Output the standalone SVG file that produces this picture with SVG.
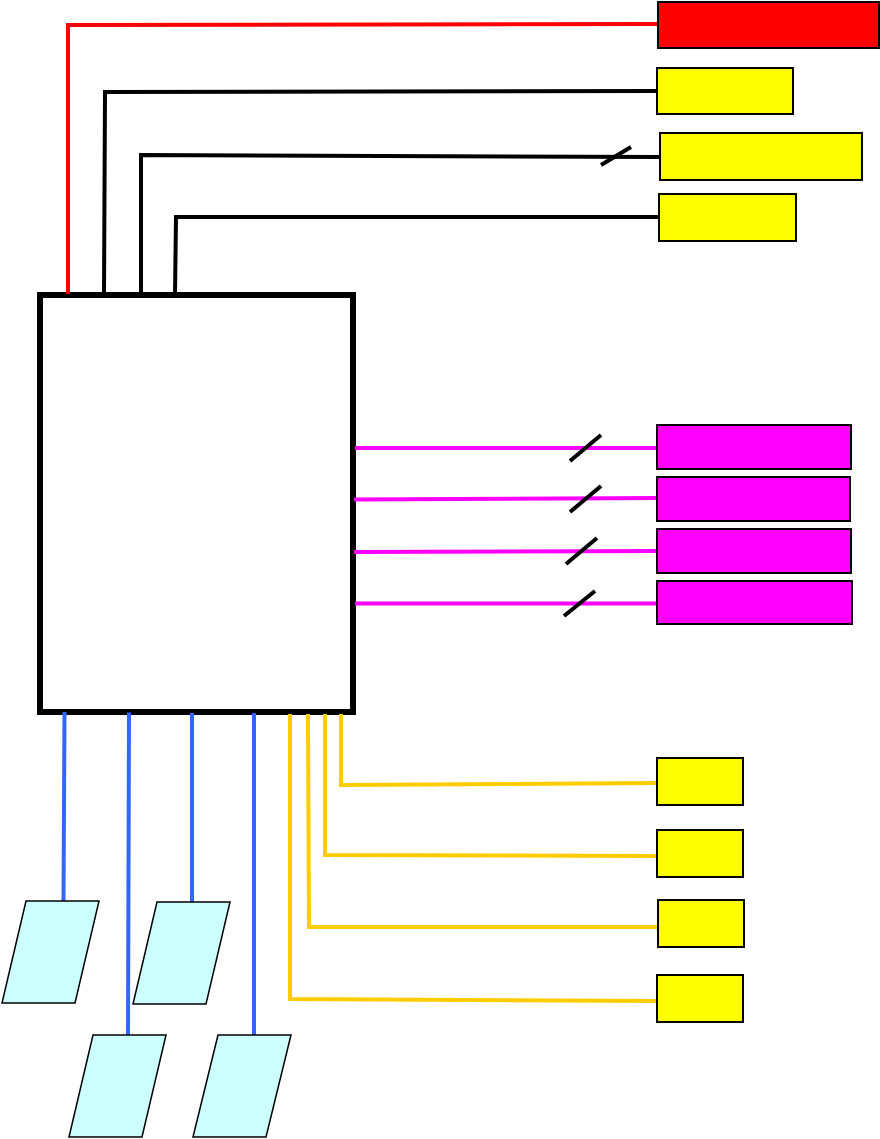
<svg xmlns="http://www.w3.org/2000/svg" width="880" height="1139" viewBox="0 0 880 1139">
<style>
.c{fill:none;stroke-width:4}
.r{stroke:#ff0000}.k{stroke:#000}.m{stroke:#ff00ff}.b{stroke:#3366ff}.o{stroke:#ffcc00}
.s{fill:none;stroke:#000;stroke-width:4}
.n{stroke:#000;stroke-width:2}
.y{fill:#ffff00}.f{fill:#ff00ff}.p{fill:#ccffff;stroke:#000;stroke-width:1.5}
</style>
<rect width="880" height="1139" fill="#fff"/>
<g id="main"><rect x="40" y="295" width="313" height="417" fill="#fff" stroke="#000" stroke-width="6"/></g>
<g id="connectors">
<path class="c r" d="M68 294V25L658 24"/>
<path class="c k" d="M104 294L105 92L657 91"/>
<path class="c k" d="M141 294V155L660 157"/>
<path class="c k" d="M175 294L176 217H659"/>
<path class="c m" d="M355 448H657"/><path class="c m" d="M354 499.500L657 498"/><path class="c m" d="M354 552L657 551"/><path class="c m" d="M355 603.500H657"/>
<path class="s" d="M601 165L631 147"/>
<path class="s" d="M570 461L601 435"/><path class="s" d="M570 512L601 486"/><path class="s" d="M566 564L597 538"/><path class="s" d="M564 616L595 591"/>
<path class="c b" d="M64.500 712L63.500 901"/><path class="c b" d="M129 712.500L128 1035"/><path class="c b" d="M192 713V902"/><path class="c b" d="M254 713V1035"/>
<path class="c o" d="M341 714V785L657 783"/>
<path class="c o" d="M325 714V855L657 856"/>
<path class="c o" d="M308 714L309 927H658"/>
<path class="c o" d="M290 714V999L657 1001"/>
</g>
<g id="red-box"><rect class="n" x="658" y="2" width="221" height="46" fill="#ff0000"/></g>
<g id="y1"><rect class="n y" x="657" y="68" width="136" height="46"/></g>
<g id="y2"><rect class="n y" x="660" y="133" width="202" height="47"/></g>
<g id="y3"><rect class="n y" x="659" y="194" width="137" height="47"/></g>
<g id="m1"><rect class="n f" x="657" y="425" width="194" height="44"/></g>
<g id="m2"><rect class="n f" x="657" y="477" width="193" height="44"/></g>
<g id="m3"><rect class="n f" x="657" y="529" width="194" height="44"/></g>
<g id="m4"><rect class="n f" x="657" y="581" width="195" height="43"/></g>
<g id="o1"><rect class="n y" x="657" y="758" width="86" height="47"/></g>
<g id="o2"><rect class="n y" x="657" y="830" width="86" height="47"/></g>
<g id="o3"><rect class="n y" x="658" y="900" width="86" height="47"/></g>
<g id="o4"><rect class="n y" x="657" y="975" width="86" height="47"/></g>
<g id="p1"><polygon class="p" points="26,901 99,901 75,1003 2,1003"/></g>
<g id="p2"><polygon class="p" points="157,902 230,902 206,1004 133,1004"/></g>
<g id="p3"><polygon class="p" points="93,1035 166,1035 142,1137 69,1137"/></g>
<g id="p4"><polygon class="p" points="218,1035 291,1035 266,1137 193,1137"/></g>
</svg>
